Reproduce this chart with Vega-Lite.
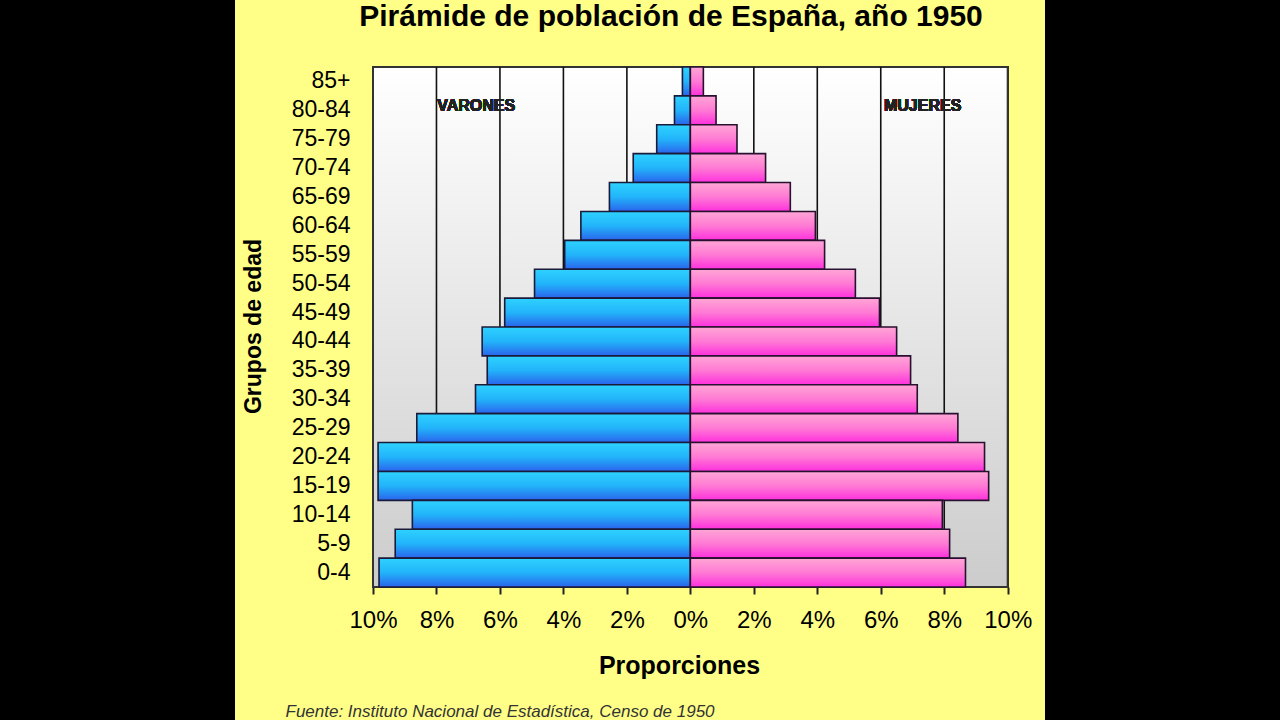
{
  "$schema": "https://vega.github.io/schema/vega-lite/v6.json",
  "width": 810,
  "height": 720,
  "autosize": {"type": "none"},
  "padding": {"left": 235, "right": 235, "top": 0, "bottom": 0},
  "background": "#000000",
  "config": {
    "font": "Liberation Sans",
    "view": {"fill": "#FFFF88", "stroke": null}
  },
  "title": {
    "text": "Pirámide de población de España, año 1950",
    "orient": "top",
    "anchor": "middle",
    "frame": "group",
    "offset": -56,
    "baseline": "alphabetic",
    "dx": 31,
    "font": "Liberation Sans",
    "fontSize": 30,
    "fontWeight": "bold",
    "color": "#000000"
  },
  "resolve": {"axis": {"x": "independent"}},
  "datasets": {
    "piramide": [
      {"edad": "85+", "sexo": "Varones", "pct": -0.25},
      {"edad": "80-84", "sexo": "Varones", "pct": -0.5},
      {"edad": "75-79", "sexo": "Varones", "pct": -1.06},
      {"edad": "70-74", "sexo": "Varones", "pct": -1.8},
      {"edad": "65-69", "sexo": "Varones", "pct": -2.55},
      {"edad": "60-64", "sexo": "Varones", "pct": -3.45},
      {"edad": "55-59", "sexo": "Varones", "pct": -3.96},
      {"edad": "50-54", "sexo": "Varones", "pct": -4.91},
      {"edad": "45-49", "sexo": "Varones", "pct": -5.85},
      {"edad": "40-44", "sexo": "Varones", "pct": -6.56},
      {"edad": "35-39", "sexo": "Varones", "pct": -6.4},
      {"edad": "30-34", "sexo": "Varones", "pct": -6.77},
      {"edad": "25-29", "sexo": "Varones", "pct": -8.62},
      {"edad": "20-24", "sexo": "Varones", "pct": -9.84},
      {"edad": "15-19", "sexo": "Varones", "pct": -9.84},
      {"edad": "10-14", "sexo": "Varones", "pct": -8.76},
      {"edad": "5-9", "sexo": "Varones", "pct": -9.3},
      {"edad": "0-4", "sexo": "Varones", "pct": -9.81},
      {"edad": "85+", "sexo": "Mujeres", "pct": 0.41},
      {"edad": "80-84", "sexo": "Mujeres", "pct": 0.81},
      {"edad": "75-79", "sexo": "Mujeres", "pct": 1.47},
      {"edad": "70-74", "sexo": "Mujeres", "pct": 2.37},
      {"edad": "65-69", "sexo": "Mujeres", "pct": 3.15},
      {"edad": "60-64", "sexo": "Mujeres", "pct": 3.94},
      {"edad": "55-59", "sexo": "Mujeres", "pct": 4.23},
      {"edad": "50-54", "sexo": "Mujeres", "pct": 5.2},
      {"edad": "45-49", "sexo": "Mujeres", "pct": 5.96},
      {"edad": "40-44", "sexo": "Mujeres", "pct": 6.5},
      {"edad": "35-39", "sexo": "Mujeres", "pct": 6.94},
      {"edad": "30-34", "sexo": "Mujeres", "pct": 7.15},
      {"edad": "25-29", "sexo": "Mujeres", "pct": 8.43},
      {"edad": "20-24", "sexo": "Mujeres", "pct": 9.27},
      {"edad": "15-19", "sexo": "Mujeres", "pct": 9.4},
      {"edad": "10-14", "sexo": "Mujeres", "pct": 7.94},
      {"edad": "5-9", "sexo": "Mujeres", "pct": 8.17},
      {"edad": "0-4", "sexo": "Mujeres", "pct": 8.67}
    ],
    "rejilla": [
      {"g": -8}, {"g": -6}, {"g": -4}, {"g": -2}, {"g": 2}, {"g": 4}, {"g": 6}, {"g": 8}
    ]
  },
  "data": {"name": "piramide"},
  "layer": [
    {
      "mark": {
        "type": "rect",
        "fill": {
          "gradient": "linear", "x1": 0, "y1": 0, "x2": 0, "y2": 1,
          "stops": [{"offset": 0, "color": "#ffffff"}, {"offset": 1, "color": "#cccccc"}]
        },
        "stroke": "#333333",
        "strokeWidth": 2
      },
      "encoding": {
        "x": {"datum": -10, "type": "quantitative", "axis": null},
        "x2": {"datum": 10},
        "y": {
          "datum": "85+",
          "type": "nominal",
          "bandPosition": 0,
          "scale": {
            "type": "band",
            "domain": ["85+", "80-84", "75-79", "70-74", "65-69", "60-64", "55-59", "50-54", "45-49", "40-44", "35-39", "30-34", "25-29", "20-24", "15-19", "10-14", "5-9", "0-4"],
            "range": [67, 587],
            "paddingInner": 0,
            "paddingOuter": 0,
            "round": false
          },
          "axis": {
            "orient": "left",
            "offset": -138,
            "domain": false,
            "ticks": false,
            "tickSize": 0,
            "labelPadding": 23,
            "labelFontSize": 23,
            "labelFont": "Liberation Sans",
            "labelColor": "#000000",
            "title": "Grupos de edad",
            "titleFont": "Liberation Sans",
            "titleFontSize": 23,
            "titleFontWeight": "bold",
            "titleColor": "#000000",
            "titleX": -113,
            "titleY": 326,
            "titleAngle": 270,
            "titleAlign": "center",
            "titleBaseline": "alphabetic"
          }
        },
        "y2": {"datum": "0-4", "bandPosition": 1}
      }
    },
    {
      "data": {"name": "rejilla"},
      "mark": {"type": "rule", "stroke": "#111111", "strokeWidth": 1.6},
      "encoding": {
        "x": {"field": "g", "type": "quantitative", "axis": null},
        "y": {"datum": "85+", "type": "nominal", "bandPosition": 0, "title": "Grupos de edad"},
        "y2": {"datum": "0-4", "bandPosition": 1}
      }
    },
    {
      "transform": [{"filter": "datum.sexo == 'Varones'"}],
      "mark": {
        "type": "bar",
        "fill": {
          "gradient": "linear", "x1": 0, "y1": 0, "x2": 0, "y2": 1,
          "stops": [{"offset": 0, "color": "#2ED2FF"}, {"offset": 0.5, "color": "#22B4FA"}, {"offset": 1, "color": "#2A64EC"}]
        },
        "stroke": "#1a1a3a",
        "strokeWidth": 1.6
      },
      "encoding": {
        "y": {"field": "edad", "type": "nominal", "title": "Grupos de edad"},
        "x": {
          "field": "pct",
          "type": "quantitative",
          "scale": {"domain": [-10, 10], "range": [138, 772.7], "nice": false, "zero": false},
          "axis": {
            "orient": "bottom",
            "offset": -133,
            "values": [-10, -8, -6, -4, -2, 0, 2, 4, 6, 8, 10],
            "labelExpr": "abs(datum.value) + '%'",
            "domain": false,
            "grid": false,
            "ticks": true,
            "tickSize": 7,
            "tickWidth": 2,
            "tickColor": "#222222",
            "labelFontSize": 24,
            "labelFont": "Liberation Sans",
            "labelColor": "#000000",
            "labelPadding": 14,
            "labelFlush": false,
            "labelOverlap": false,
            "title": "Proporciones",
            "titleFont": "Liberation Sans",
            "titleFontSize": 25,
            "titleFontWeight": "bold",
            "titleColor": "#000000",
            "titleX": 444,
            "titleY": 86,
            "titleAlign": "center",
            "titleBaseline": "alphabetic"
          }
        },
        "x2": {"datum": 0}
      }
    },
    {
      "transform": [{"filter": "datum.sexo == 'Mujeres'"}],
      "mark": {
        "type": "bar",
        "fill": {
          "gradient": "linear", "x1": 0, "y1": 0, "x2": 0, "y2": 1,
          "stops": [{"offset": 0, "color": "#FFA6D6"}, {"offset": 0.5, "color": "#FF7AD4"}, {"offset": 1, "color": "#FF30DE"}]
        },
        "stroke": "#2a1030",
        "strokeWidth": 1.6
      },
      "encoding": {
        "y": {"field": "edad", "type": "nominal", "title": "Grupos de edad"},
        "x": {"field": "pct", "type": "quantitative", "axis": null},
        "x2": {"datum": 0}
      }
    },
    {
      "mark": {"type": "text", "text": "VARONES", "font": "Liberation Sans", "fontSize": 16, "fontWeight": "bold", "color": "#222222", "baseline": "middle", "align": "center"},
      "encoding": {
        "x": {
          "datum": -6.75,
          "type": "quantitative",
          "axis": {
            "orient": "top",
            "offset": 0,
            "minExtent": 0,
            "maxExtent": 0,
            "domain": false,
            "ticks": false,
            "labels": false,
            "grid": false,
            "title": "Fuente: Instituto Nacional de Estadística, Censo de 1950",
            "titleFont": "Liberation Sans",
            "titleFontSize": 17,
            "titleFontStyle": "italic",
            "titleFontWeight": "normal",
            "titleColor": "#333333",
            "titleX": 50,
            "titleY": 716,
            "titleAlign": "left",
            "titleBaseline": "alphabetic"
          }
        },
        "y": {"datum": "80-84", "type": "nominal", "bandPosition": 0.35, "title": "Grupos de edad"}
      }
    },
    {
      "mark": {"type": "text", "text": "MUJERES", "font": "Liberation Sans", "fontSize": 16, "fontWeight": "bold", "color": "#222222", "baseline": "middle", "align": "center"},
      "encoding": {
        "x": {"datum": 7.32, "type": "quantitative", "axis": null},
        "y": {"datum": "80-84", "type": "nominal", "bandPosition": 0.35, "title": "Grupos de edad"}
      }
    }
  ]
}
